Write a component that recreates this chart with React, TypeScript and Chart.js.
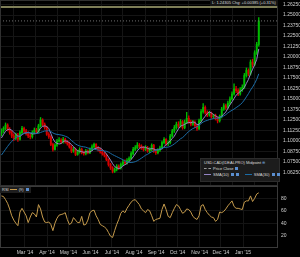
import React, { useEffect, useRef } from 'react';
import { Chart, registerables } from 'chart.js';

Chart.register(...registerables);

// ---- data (USD.CAD daily-ish candles, Jan 2014 – Jan 2015) ----
const PRE_CLOSES = [
  1.0620, 1.0640, 1.0660, 1.0630, 1.0620, 1.0640, 1.0680, 1.0740, 1.0860, 1.0900,
  1.0930, 1.0950, 1.0990, 1.1040, 1.1080,
];

const CLOSES = [
  1.1120, 1.1150, 1.1190, 1.1140, 1.1100, 1.1060, 1.1030, 1.1070, 1.1020, 1.1100, 1.1150, 1.1120,
  1.1090, 1.1060, 1.1050, 1.1100, 1.1130, 1.1110, 1.1180, 1.1250, 1.1200, 1.1160, 1.1080,
  1.1050, 1.0960, 1.0900, 1.0950, 1.1000, 1.1010, 1.0990, 1.1020, 1.0990, 1.0970,
  1.0930, 1.0880, 1.0900, 1.0840, 1.0870, 1.0900, 1.0860, 1.0850, 1.0880, 1.0860, 1.0900,
  1.0930, 1.0960, 1.0920, 1.0900, 1.0870, 1.0850, 1.0830, 1.0780, 1.0720, 1.0680,
  1.0640, 1.0660, 1.0700, 1.0680, 1.0720, 1.0750, 1.0740, 1.0770, 1.0790, 1.0850, 1.0900,
  1.0920, 1.0950, 1.0940, 1.0920, 1.0900, 1.0920, 1.0880, 1.0900, 1.0950, 1.0880, 1.0860,
  1.0890, 1.0920, 1.0980, 1.1020, 1.0970, 1.0980, 1.1060, 1.1120, 1.1160, 1.1200,
  1.1180, 1.1230, 1.1160, 1.1220, 1.1270, 1.1230, 1.1200, 1.1220, 1.1180, 1.1150, 1.1240,
  1.1350, 1.1400, 1.1340, 1.1310, 1.1330, 1.1290, 1.1300, 1.1270, 1.1240, 1.1290,
  1.1380, 1.1420, 1.1400, 1.1450, 1.1500, 1.1560, 1.1620, 1.1600, 1.1560, 1.1610, 1.1640,
  1.1780, 1.1840, 1.1800, 1.1940, 1.1910, 1.2050, 1.2150, 1.2430,
];

const HIGHS = [
  1.1145, 1.1170, 1.1215, 1.1205, 1.1160, 1.1120, 1.1085, 1.1095, 1.1090, 1.1120, 1.1175, 1.1165,
  1.1140, 1.1110, 1.1085, 1.1120, 1.1155, 1.1150, 1.1200, 1.1280, 1.1265, 1.1215, 1.1175,
  1.1100, 1.1065, 1.0975, 1.0970, 1.1020, 1.1040, 1.1030, 1.1045, 1.1035, 1.1005,
  1.0985, 1.0945, 1.0925, 1.0915, 1.0890, 1.0920, 1.0915, 1.0880, 1.0900, 1.0895, 1.0920,
  1.0955, 1.0975, 1.0970, 1.0935, 1.0915, 1.0890, 1.0865, 1.0845, 1.0790, 1.0735,
  1.0695, 1.0680, 1.0720, 1.0715, 1.0740, 1.0770, 1.0775, 1.0790, 1.0810, 1.0870, 1.0925,
  1.0945, 1.0980, 1.0970, 1.0955, 1.0935, 1.0945, 1.0935, 1.0920, 1.0965, 1.0960, 1.0895,
  1.0910, 1.0940, 1.1000, 1.1040, 1.1030, 1.1000, 1.1080, 1.1140, 1.1185, 1.1225,
  1.1230, 1.1255, 1.1245, 1.1250, 1.1340, 1.1300, 1.1250, 1.1245, 1.1240, 1.1195, 1.1260,
  1.1375, 1.1445, 1.1420, 1.1360, 1.1355, 1.1345, 1.1320, 1.1320, 1.1285, 1.1310,
  1.1400, 1.1445, 1.1440, 1.1475, 1.1525, 1.1585, 1.1680, 1.1650, 1.1620, 1.1635, 1.1670,
  1.1805, 1.1870, 1.1860, 1.1965, 1.1975, 1.2075, 1.2175, 1.2470,
];

const LOWS = [
  1.1060, 1.1100, 1.1135, 1.1120, 1.1080, 1.1040, 1.1005, 1.1015, 1.0995, 1.1010, 1.1085, 1.1100,
  1.1070, 1.1040, 1.1025, 1.1035, 1.1085, 1.1090, 1.1100, 1.1165, 1.1180, 1.1140, 1.1065,
  1.1030, 1.0945, 1.0880, 1.0890, 1.0935, 1.0985, 1.0970, 1.0975, 1.0975, 1.0950,
  1.0915, 1.0860, 1.0865, 1.0825, 1.0830, 1.0855, 1.0845, 1.0830, 1.0835, 1.0845, 1.0850,
  1.0885, 1.0915, 1.0905, 1.0880, 1.0855, 1.0830, 1.0810, 1.0765, 1.0700, 1.0660,
  1.0620, 1.0625, 1.0645, 1.0660, 1.0665, 1.0705, 1.0720, 1.0725, 1.0755, 1.0780, 1.0835,
  1.0885, 1.0905, 1.0920, 1.0900, 1.0880, 1.0885, 1.0865, 1.0860, 1.0885, 1.0865, 1.0840,
  1.0845, 1.0875, 1.0905, 1.0965, 1.0950, 1.0945, 1.0965, 1.1045, 1.1100, 1.1140,
  1.1160, 1.1165, 1.1140, 1.1145, 1.1205, 1.1210, 1.1180, 1.1185, 1.1160, 1.1125, 1.1135,
  1.1225, 1.1330, 1.1320, 1.1290, 1.1295, 1.1270, 1.1270, 1.1250, 1.1215, 1.1225,
  1.1275, 1.1365, 1.1375, 1.1385, 1.1435, 1.1485, 1.1545, 1.1575, 1.1540, 1.1545, 1.1590,
  1.1625, 1.1760, 1.1775, 1.1785, 1.1880, 1.1895, 1.2030, 1.2130,
];

const RSI_VALUES = [
  84, 83, 78, 72, 63, 52, 45, 40, 36, 58, 64, 58,
  52, 41, 50, 57, 55, 50, 70, 63, 50, 42, 41,
  42, 38, 28, 40, 48, 53, 54, 55, 57, 46,
  38, 40, 49, 45, 41, 41, 51, 37, 38, 45, 57,
  60, 61, 52, 46, 38, 36, 34, 31, 25, 19,
  17, 28, 38, 46, 56, 60, 57, 64, 69, 74, 77,
  78, 74, 70, 63, 60, 57, 62, 60, 52, 43, 46,
  47, 48, 62, 71, 62, 51, 49, 57, 64, 70,
  68, 62, 56, 58, 63, 62, 58, 51, 48, 46, 52,
  68, 70, 62, 57, 53, 50, 49, 43, 46, 58,
  57, 59, 63, 68, 72, 76, 67, 64, 64, 63, 62,
  74, 76, 76, 84, 75, 80, 87, 89,
];

// calendar days counted from 25 Jan 2014
const FIRST_DAY = 2;
const LAST_DAY = 363;
const X_MAX_DAY = 390;
const MONTH_DAYS = [35, 66, 96, 127, 157, 188, 219, 249, 280, 310, 341];
const MONTH_LABELS = ["Mar '14", "Apr '14", "May '14", "Jun '14", "Jul '14", "Aug '14", "Sep '14", "Oct '14", "Nov '14", "Dec '14", "Jan '15"];
const PRICE_TICKS = [
  1.0625, 1.075, 1.0875, 1.1, 1.1125, 1.125, 1.1375, 1.15, 1.1625, 1.175, 1.1875, 1.2, 1.2125,
  1.225, 1.2375, 1.25, 1.2625,
];
const PRICE_MIN = 1.0464;
const PRICE_MAX = 1.2679;
const RSI_TICKS = [20, 40, 60, 80];
const LEVEL_PRICE = 1.2595;
const SMA_FAST_BARS = 5; // 2 trading days per bar -> SMA(10)
const SMA_SLOW_BARS = 15; // -> SMA(30)

const UP = '#00bb00';
const DOWN = '#d40000';
const FONT = 'Liberation Sans';

const dayOf = (i: number) => FIRST_DAY + (i * (LAST_DAY - FIRST_DAY)) / (CLOSES.length - 1);

const frame = (color: string) => ({
  id: 'frame',
  afterDatasetsDraw(chart: any) {
    const { ctx, chartArea: a } = chart;
    ctx.save();
    ctx.strokeStyle = color;
    ctx.lineWidth = 1;
    ctx.strokeRect(a.left + 0.5, a.top + 0.5, a.right - a.left - 1, a.bottom - a.top - 1);
    ctx.restore();
  },
});

function MainChart() {
  const ref = useRef<HTMLCanvasElement | null>(null);
  useEffect(() => {
    const all = [...PRE_CLOSES, ...CLOSES];
    const off = PRE_CLOSES.length;
    const opens = CLOSES.map((_, i) => all[i + off - 1]);
    const sma = (n: number, i: number) => {
      let s = 0;
      for (let k = i + off - n + 1; k <= i + off; k++) s += all[k];
      return s / n;
    };
    const colors = CLOSES.map((c, i) => (c >= opens[i] ? UP : DOWN));
    const last = CLOSES[CLOSES.length - 1];
    const chart = new Chart(ref.current as HTMLCanvasElement, {
      type: 'bar',
      data: {
        datasets: [
          {
            type: 'line',
            data: [{ x: 0, y: LEVEL_PRICE }, { x: X_MAX_DAY, y: LEVEL_PRICE }],
            borderColor: '#7f7f58',
            borderWidth: 2,
            pointRadius: 0,
            order: 0,
          } as any,
          {
            type: 'line',
            data: [{ x: 0, y: last }, { x: X_MAX_DAY, y: last }],
            borderColor: '#6e6e6e',
            borderWidth: 1,
            borderDash: [1, 2],
            pointRadius: 0,
            order: 1,
          } as any,
          {
            type: 'line',
            data: CLOSES.map((_, i) => ({ x: dayOf(i), y: sma(SMA_SLOW_BARS, i) })),
            borderColor: '#1b6ca6',
            borderWidth: 1,
            pointRadius: 0,
            order: 2,
          } as any,
          {
            type: 'line',
            data: CLOSES.map((_, i) => ({ x: dayOf(i), y: sma(SMA_FAST_BARS, i) })),
            borderColor: '#9484c4',
            borderWidth: 1,
            pointRadius: 0,
            order: 3,
          } as any,
          {
            type: 'bar',
            data: CLOSES.map((c, i) => ({ x: dayOf(i), y: [opens[i], c] })),
            backgroundColor: colors,
            barThickness: 1.3,
            grouped: false,
            order: 4,
          } as any,
          {
            type: 'bar',
            data: CLOSES.map((_, i) => ({ x: dayOf(i), y: [LOWS[i], HIGHS[i]] })),
            backgroundColor: colors,
            barThickness: 0.7,
            grouped: false,
            order: 5,
          } as any,
        ],
      },
      options: {
        animation: false,
        responsive: false,
        maintainAspectRatio: false,
        layout: { padding: 0 },
        plugins: { legend: { display: false }, tooltip: { enabled: false } },
        scales: {
          x: {
            type: 'linear',
            min: 0,
            max: X_MAX_DAY,
            offset: false,
            grid: { color: '#151515', drawTicks: false },
            border: { display: false },
            ticks: { display: false },
            afterBuildTicks: (s: any) => {
              s.ticks = MONTH_DAYS.map((v) => ({ value: v }));
            },
            afterFit: (s: any) => {
              s.height = 0;
              s.paddingLeft = 0;
              s.paddingRight = 0;
            },
          },
          y: {
            position: 'right',
            min: PRICE_MIN,
            max: PRICE_MAX,
            grid: { color: '#151515', drawTicks: false },
            border: { display: false },
            ticks: {
              color: '#cfcfcf',
              font: { family: FONT, size: 5 },
              padding: 5,
              autoSkip: false,
              callback: (v: any) => Number(v).toFixed(5),
            },
            afterBuildTicks: (s: any) => {
              s.ticks = PRICE_TICKS.map((v) => ({ value: v }));
            },
            afterFit: (s: any) => {
              s.width = 22;
              s.paddingTop = 0;
              s.paddingBottom = 0;
            },
          },
        },
      } as any,
      plugins: [frame('#303030')],
    });
    return () => chart.destroy();
  }, []);
  return <canvas ref={ref} width={300} height={186} style={{ position: 'absolute', left: 0, top: 0 }} />;
}

function RsiChart() {
  const ref = useRef<HTMLCanvasElement | null>(null);
  useEffect(() => {
    const chart = new Chart(ref.current as HTMLCanvasElement, {
      type: 'line',
      data: {
        datasets: [
          {
            data: RSI_VALUES.map((v, i) => ({ x: dayOf(i), y: v })),
            borderColor: '#c49a4c',
            borderWidth: 1,
            pointRadius: 0,
          },
        ],
      },
      options: {
        animation: false,
        responsive: false,
        maintainAspectRatio: false,
        layout: { padding: 0 },
        plugins: { legend: { display: false }, tooltip: { enabled: false } },
        scales: {
          x: {
            type: 'linear',
            min: 0,
            max: X_MAX_DAY,
            offset: false,
            grid: { color: '#141414', drawTicks: false },
            border: { display: false },
            ticks: {
              color: '#cfcfcf',
              font: { family: FONT, size: 5 },
              padding: 2,
              maxRotation: 0,
              autoSkip: false,
              callback: (_v: any, idx: number) => MONTH_LABELS[idx],
            },
            afterBuildTicks: (s: any) => {
              s.ticks = MONTH_DAYS.map((v) => ({ value: v }));
            },
            afterFit: (s: any) => {
              s.height = 9;
              s.paddingLeft = 0;
              s.paddingRight = 0;
            },
          },
          y: {
            position: 'right',
            min: 0,
            max: 100,
            grid: { color: '#141414', drawTicks: false },
            border: { display: false },
            ticks: {
              color: '#cfcfcf',
              font: { family: FONT, size: 5 },
              padding: 3,
              autoSkip: false,
            },
            afterBuildTicks: (s: any) => {
              s.ticks = RSI_TICKS.map((v) => ({ value: v }));
            },
            afterFit: (s: any) => {
              s.width = 22;
              s.paddingTop = 0;
              s.paddingBottom = 0;
            },
          },
        },
      } as any,
      plugins: [frame('#3a3a3a')],
    });
    return () => chart.destroy();
  }, []);
  return <canvas ref={ref} width={300} height={71} style={{ position: 'absolute', left: 0, top: 186 }} />;
}

const txt: React.CSSProperties = { fontFamily: FONT, fontSize: 4, lineHeight: '6px', color: '#dcdcdc', whiteSpace: 'nowrap' };
const sq = (c: string): React.CSSProperties => ({ display: 'inline-block', width: 3, height: 3, background: c, marginLeft: 2, verticalAlign: 'middle' });
const ln = (c: string, dashed = false): React.CSSProperties => ({
  display: 'inline-block',
  width: 7,
  height: 0,
  borderTop: `1px ${dashed ? 'dashed' : 'solid'} ${c}`,
  marginRight: 2,
  verticalAlign: 'middle',
});

export default function App() {
  return (
    <div style={{ position: 'fixed', left: 0, top: 0, width: 300, height: 257, background: '#000', overflow: 'hidden' }}>
      <MainChart />
      <RsiChart />
      <div style={{ ...txt, position: 'absolute', left: 210, top: 0, padding: '0 2px', background: '#141414' }}>
        L: 1.24305 Chg: +0.00385 (+0.31%)
      </div>
      <div
        style={{
          ...txt,
          position: 'absolute',
          left: 200,
          top: 158,
          width: 72,
          height: 20,
          padding: '1px 3px',
          background: '#1c1c1c',
          border: '1px solid #2c2c2c',
        }}
      >
        <div>
          USD.CAD(IDEALPRO) Midpoint <span style={{ color: '#6fa0d8' }}>⊕</span>
        </div>
        <div>
          <span style={ln('#9a9a9a', true)} />
          Price Close<span style={sq('#5b8fd0')} />
        </div>
        <div>
          <span style={ln('#9484c4')} />
          SMA(10)<span style={sq('#5b8fd0')} />
          <span style={sq('#5b8fd0')} />
          <span style={{ display: 'inline-block', width: 6 }} />
          <span style={ln('#1b6ca6')} />
          SMA(30)<span style={sq('#5b8fd0')} />
          <span style={sq('#5b8fd0')} />
        </div>
      </div>
      <div style={{ ...txt, position: 'absolute', left: 0, top: 187, padding: '0 2px', background: '#1e1e1e' }}>
        RSI <span style={ln('#c49a4c')} />(9)<span style={sq('#5b8fd0')} />
      </div>
    </div>
  );
}
